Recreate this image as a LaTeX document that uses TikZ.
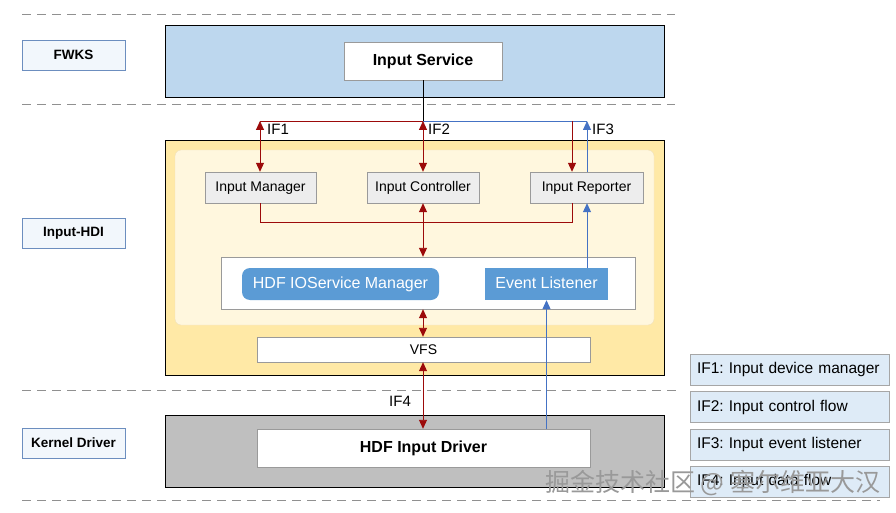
\documentclass[tikz,border=0pt]{standalone}
\usepackage{fontspec}
\setmainfont{Liberation Sans}
\newfontfamily\cjkfont{Noto Sans CJK SC}
\usetikzlibrary{arrows.meta,calc}
\frenchspacing
\definecolor{darkred}{HTML}{9C0A0A}
\definecolor{lineblue}{HTML}{4472C4}
\definecolor{lblfill}{HTML}{F2F7FC}
\definecolor{lblborder}{HTML}{6C8EBF}
\definecolor{fwksfill}{HTML}{BDD7EE}
\definecolor{hdifill}{HTML}{FFE9A6}
\definecolor{innerfill}{HTML}{FFF7DE}
\definecolor{innerborder}{HTML}{F0E0B8}
\definecolor{kernfill}{HTML}{BFBFBF}
\definecolor{modfill}{HTML}{EDEDED}
\definecolor{modborder}{HTML}{9A9A9A}
\definecolor{hdfblue}{HTML}{5B9BD5}
\definecolor{legfill}{HTML}{DEEBF7}
\definecolor{legborder}{HTML}{A6A6A6}
\definecolor{dashgray}{HTML}{909090}
\begin{document}
\begin{tikzpicture}[x=1pt,y=-1pt,
  layerlbl/.style={draw=lblborder,fill=lblfill,minimum width=103pt,minimum height=30pt,inner sep=0pt,font=\fontsize{13.5}{15}\selectfont\bfseries},
  layerbox/.style={draw=black,line width=0.9pt,minimum width=499pt,inner sep=0pt},
  modbox/.style={draw=modborder,fill=modfill,minimum height=31pt,inner sep=0pt,text height=10.5pt,text depth=3pt,font=\fontsize{14}{16}\selectfont},
  whitebox/.style={draw=modborder,fill=white,inner sep=0pt},
  bluebox/.style={fill=hdfblue,text=white,minimum height=32pt,inner sep=0pt,text height=11.5pt,text depth=3.5pt,font=\fontsize{16}{18}\selectfont},
  legbox/.style={draw=legborder,fill=legfill,minimum width=199pt,minimum height=31pt,inner sep=0pt,text width=185pt,align=left,font=\fontsize{15.5}{18}\selectfont},
  sep/.style={dashgray,dash pattern=on 9pt off 6pt,line width=0.7pt},
  redarr/.style={darkred,line width=0.9pt},
  bluearr/.style={lineblue,line width=0.9pt},
  tipr/.tip={Triangle[length=9pt,width=8pt]},
  iflbl/.style={font=\fontsize{15}{17}\selectfont,inner sep=0pt}
]
\useasboundingbox (0,0) rectangle (896,513);
\fill[white] (0,0) rectangle (896,513);

% separators
\draw[sep] (22,14) -- (675,14);
\draw[sep] (22,104) -- (675,104);
\draw[sep] (22,390) -- (680,390);
\draw[sep] (22,500) -- (880,500);

% layer labels
\node[layerlbl] (lfwks) at (73.5,55) {FWKS};
\node[layerlbl] (lhdi) at (73.5,233) {Input-HDI};
\node[layerlbl] (lkern) at (73.5,443) {Kernel Driver};

% layer boxes
\node[layerbox,fill=fwksfill,minimum height=72pt] (fwks) at (414.5,61) {};
\node[layerbox,fill=hdifill,minimum height=235pt] (hdi) at (414.5,257.5) {};
\node[layerbox,fill=kernfill,minimum height=72pt] (kern) at (414.5,451) {};

\node[draw=innerborder,fill=innerfill,rounded corners=6pt,minimum width=479pt,minimum height=175pt,inner sep=0pt] (inner) at (414.5,237.5) {};

% nodes
\node[whitebox,minimum width=158pt,minimum height=38pt,font=\fontsize{16}{18}\selectfont\bfseries] (svc) at (423,61) {Input Service};
\node[modbox,minimum width=111pt] (mgr) at (260.5,187.5) {Input Manager};
\node[modbox,minimum width=112pt] (ctl) at (423,187.5) {Input Controller};
\node[modbox,minimum width=113pt] (rep) at (586.5,187.5) {Input Reporter};
\node[whitebox,minimum width=414pt,minimum height=52pt] (io) at (428,283) {};
\node[bluebox,rounded corners=8pt,minimum width=197pt] (ios) at (340.5,284) {HDF IOService Manager};
\node[bluebox,minimum width=123pt] (evl) at (546.5,284) {Event Listener};
\node[whitebox,minimum width=333pt,minimum height=25pt,font=\fontsize{14}{16}\selectfont] (vfs) at (423.5,349.5) {VFS};
\node[whitebox,minimum width=333pt,minimum height=38pt,font=\fontsize{16}{18}\selectfont\bfseries] (drv) at (423.5,448) {HDF Input Driver};

% legend
\node[legbox] (leg1) at (789.5,369.5) {IF1: Input device manager};
\node[legbox] (leg2) at (789.5,407) {IF2: Input control flow};
\node[legbox] (leg3) at (789.5,444.5) {IF3: Input event listener};
\node[legbox] (leg4) at (789.5,481.5) {IF4: Input data flow};

% junction coordinates
\coordinate (j1) at (260,121);
\coordinate (j2) at (423,121);
\coordinate (j3) at (572,121);
\coordinate (j4) at (587,121);
\coordinate (b1) at (260,222);
\coordinate (b3) at (572,222);

% top connectors
\draw[black,line width=0.9pt] (svc.south) -- (j2);
\draw[redarr] (j1) -- (j3);
\draw[bluearr,line width=0.7pt] (j2) -- (j4);
\draw[redarr,{tipr}-{tipr}] (j1) -- (mgr.north -| j1);
\draw[redarr,{tipr}-{tipr}] (j2) -- (ctl.north);
\draw[redarr,-{tipr}] (j3) -- (rep.north -| j3);
\draw[bluearr,-{tipr}] (rep.north -| j4) -- (j4);

% middle connectors
\draw[redarr] (mgr.south -| b1) -- (b1) -- (b3) -- (rep.south -| b3);
\draw[redarr,{tipr}-{tipr}] (ctl.south) -- (io.north -| ctl);
\draw[bluearr,-{tipr}] (evl.north -| j4) -- (rep.south -| j4);
\draw[redarr,{tipr}-{tipr}] (io.south -| ctl) -- (vfs.north -| ctl);
\draw[redarr,{tipr}-{tipr}] (vfs.south -| ctl) -- (drv.north -| ctl);
\draw[bluearr,-{tipr}] (drv.north -| evl) -- (evl.south);

% IF labels
\node[iflbl,anchor=west] (if1) at (267,129) {IF1};
\node[iflbl,anchor=west] (if2) at (428,129) {IF2};
\node[iflbl,anchor=west] (if3) at (592,129) {IF3};
\node[iflbl] (if4) at (400,401) {IF4};

% watermark
\node[anchor=west,inner sep=0pt,text=black!40,font=\cjkfont\fontsize{25}{28}\selectfont] (wm) at (545,483) {掘金技术社区 @ 塞尔维亚大汉};
\end{tikzpicture}
\end{document}
